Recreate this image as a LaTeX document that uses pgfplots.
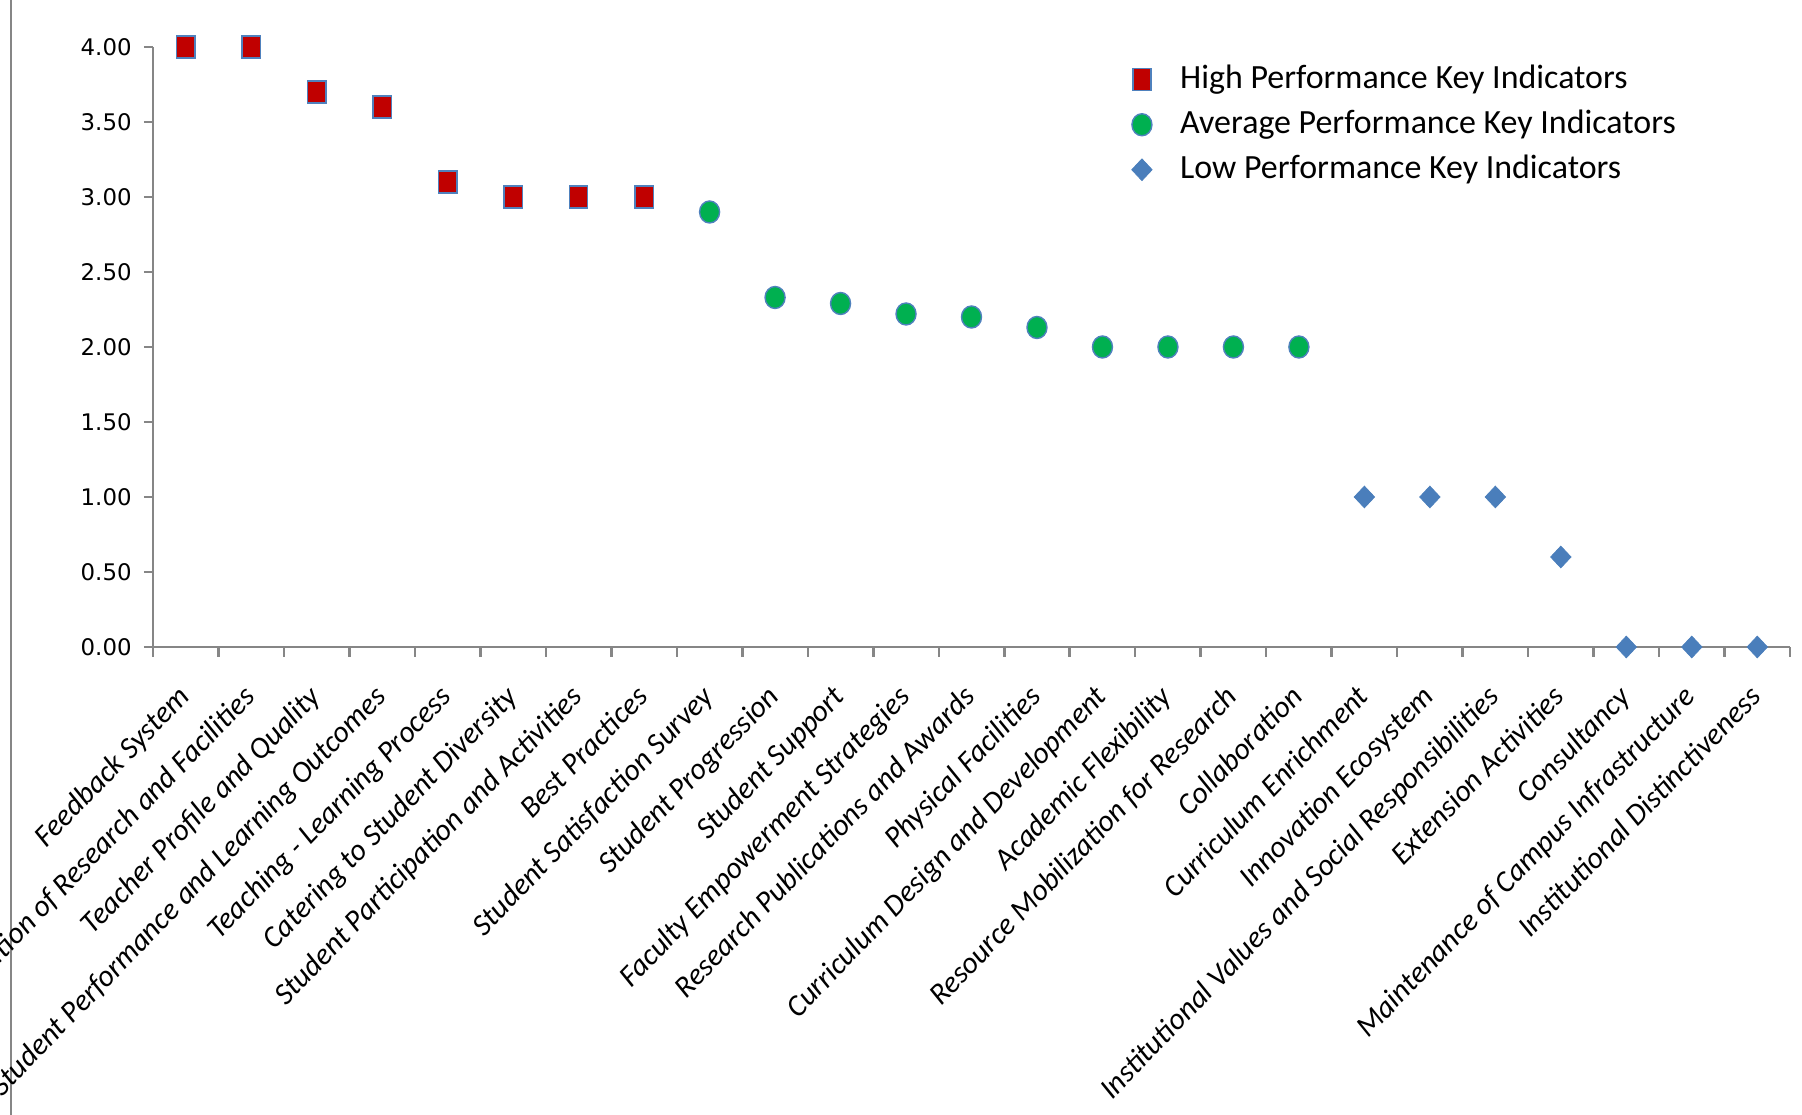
\documentclass[border=0pt]{standalone}
\usepackage{pgfplots}
\pgfplotsset{compat=1.18}
\usepackage{fontspec}
\setmainfont{Carlito}
\newfontfamily\tickfont{DejaVu Sans}

\definecolor{hired}{HTML}{C00000}
\definecolor{avgreen}{HTML}{00B050}
\definecolor{lowblue}{HTML}{4A7EBB}
\definecolor{edgeblue}{HTML}{4F81BD}
\definecolor{axgray}{HTML}{868686}

\begin{document}
\begin{tikzpicture}
\useasboundingbox (0,0) rectangle (18.02,11.15);
\clip (0,0) rectangle (18.02,11.15);
\draw[axgray, line width=0.25mm] (0.11,0) -- (0.11,11.15);
\begin{axis}[
  at={(1.53cm,4.68cm)}, anchor=south west,
  scale only axis, width=16.37cm, height=6.00cm,
  xmin=-0.5, xmax=24.5, ymin=0, ymax=4,
  clip=false,
  axis x line*=bottom, axis y line*=left,
  axis line style={-, axgray, line width=0.25mm},
  tick align=outside,
  xtick={0,...,24},
  major x tick style={draw=none},
  minor xtick={-0.5,0.5,...,24.5},
  minor x tick style={axgray, line width=0.25mm},
  minor tick length=1mm,
  ytick={0,0.5,...,4},
  y tick style={axgray, line width=0.25mm},
  major tick length=0.9mm,
  /pgf/number format/assume math mode=true,
  yticklabel style={font=\tickfont\fontsize{6.5}{7}\selectfont, /pgf/number format/.cd, fixed, fixed zerofill, precision=2},
  xticklabels={Feedback System, Utilization of Research and Facilities, Teacher Profile and Quality, Student Performance and Learning Outcomes, Teaching - Learning Process, Catering to Student Diversity, Student Participation and Activities, Best Practices, Student Satisfaction Survey, Student Progression, Student Support, Faculty Empowerment Strategies, Research Publications and Awards, Physical Facilities, Curriculum Design and Development, Academic Flexibility, Resource Mobilization for Research, Collaboration, Curriculum Enrichment, Innovation Ecosystem, Institutional Values and Social Responsibilities, Extension Activities, Consultancy, Maintenance of Campus Infrastructure, Institutional Distinctiveness},
  xticklabel style={font=\itshape\fontsize{8.6}{10}\selectfont, rotate=46, anchor=north east, inner sep=1pt, yshift=-0.8mm, xshift=-2.25mm},
  legend style={at={(0.591,0.994)}, anchor=north west, draw=none, fill=none,
    font=\fontsize{9.65}{11}\selectfont, row sep=0.6pt,
    /tikz/every odd column/.append style={column sep=2.1mm}},
  legend cell align=left,
]
\addplot[only marks, mark=square*, mark size=2.6pt,
  mark options={fill=hired, draw=edgeblue, line width=0.4pt, yscale=1.2}]
  coordinates {(0,4.00) (1,4.00) (2,3.70) (3,3.60) (4,3.10) (5,3.00) (6,3.00) (7,3.00)};
\addlegendentry{High Performance Key Indicators}
\addplot[only marks, mark=*, mark size=2.85pt,
  mark options={fill=avgreen, draw=edgeblue, line width=0.4pt, yscale=1.1}]
  coordinates {(8,2.90) (9,2.33) (10,2.29) (11,2.22) (12,2.20) (13,2.13) (14,2.00) (15,2.00) (16,2.00) (17,2.00)};
\addlegendentry{Average Performance Key Indicators}
\addplot[only marks, mark=diamond*, mark size=3.1pt,
  mark options={fill=lowblue, draw=lowblue, line width=0.2pt, xscale=1.25}]
  coordinates {(18,1.00) (19,1.00) (20,1.00) (21,0.60) (22,0.00) (23,0.00) (24,0.00)};
\addlegendentry{Low Performance Key Indicators}
\end{axis}
\end{tikzpicture}
\end{document}
